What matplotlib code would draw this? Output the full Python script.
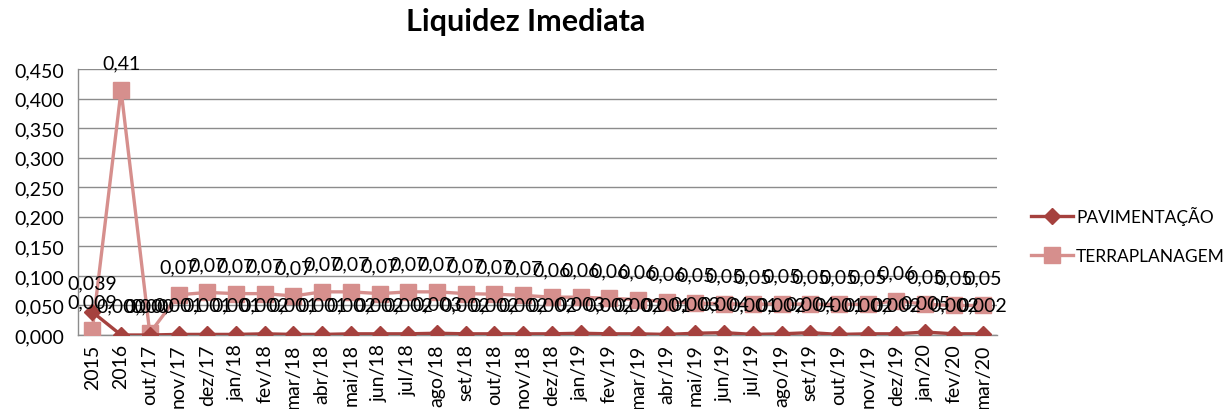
import matplotlib.pyplot as plt
from matplotlib.ticker import FuncFormatter

# -------------------------------
# Data
# -------------------------------
periodos = ["2015", "2016", "out/17", "nov/17", "dez/17",
            "jan/18", "fev/18", "mar/18", "abr/18", "mai/18", "jun/18",
            "jul/18", "ago/18", "set/18", "out/18", "nov/18", "dez/18",
            "jan/19", "fev/19", "mar/19", "abr/19", "mai/19", "jun/19",
            "jul/19", "ago/19", "set/19", "out/19", "nov/19", "dez/19",
            "jan/20", "fev/20", "mar/20"]

pavimentacao = [0.039, 0.000, 0.000, 0.001, 0.001,
                0.001, 0.002, 0.001, 0.001, 0.002, 0.002,
                0.002, 0.003, 0.002, 0.002, 0.002, 0.002,
                0.003, 0.002, 0.002, 0.001, 0.003, 0.004,
                0.001, 0.002, 0.004, 0.001, 0.002, 0.002,
                0.005, 0.002, 0.002]

terraplanagem = [0.009, 0.414, 0.003, 0.068, 0.072,
                 0.070, 0.070, 0.066, 0.073, 0.073, 0.070,
                 0.073, 0.073, 0.070, 0.069, 0.067, 0.064,
                 0.064, 0.062, 0.060, 0.056, 0.054, 0.053,
                 0.052, 0.053, 0.052, 0.052, 0.052, 0.058,
                 0.052, 0.050, 0.050]

# decimals shown in the data labels
pav_decimais = [3] * len(pavimentacao)
terra_decimais = [3] + [2] * (len(terraplanagem) - 1)

cor_pav = "#A5413E"
cor_terra = "#D68F8D"

plt.rcParams['font.family'] = ['Lato', 'DejaVu Sans']
FS = 14


def fmt(v, d):
    return f"{v:.{d}f}".replace(".", ",")


fig = plt.figure(figsize=(12.28, 4.10), dpi=100)
ax = fig.add_axes([78 / 1228, 1 - 336 / 410, (997 - 78) / 1228, (336 - 70) / 410])

x = list(range(len(periodos)))
ax.plot(x, pavimentacao, color=cor_pav, lw=2.4, marker="D", ms=8,
        label="PAVIMENTAÇÃO", zorder=4)
ax.plot(x, terraplanagem, color=cor_terra, lw=2.4, marker="s", ms=11,
        label="TERRAPLANAGEM", zorder=3)

# data labels above each point
for xi, v, d in zip(x, terraplanagem, terra_decimais):
    ax.annotate(fmt(v, d), (xi, v), xytext=(0, 20), textcoords="offset points",
                ha="center", va="center", fontsize=FS, color="black",
                annotation_clip=False, zorder=5)
for xi, v, d in zip(x, pavimentacao, pav_decimais):
    ax.annotate(fmt(v, d), (xi, v), xytext=(0, 21), textcoords="offset points",
                ha="center", va="center", fontsize=FS, color="black",
                annotation_clip=False, zorder=5)

ax.set_xlim(-0.5, len(periodos) - 0.5)
ax.set_ylim(0, 0.45)
ax.set_yticks([i * 0.05 for i in range(10)])
ax.yaxis.set_major_formatter(FuncFormatter(lambda v, p: fmt(v, 3)))
ax.set_xticks(x)
ax.set_xticklabels(periodos, rotation=90, fontsize=FS)
ax.tick_params(axis="y", labelsize=FS, length=0, pad=10)
ax.tick_params(axis="x", length=0, pad=6)

ax.grid(axis="y", color="#8c8c8c", lw=1)
ax.set_axisbelow(True)
for s in ["top", "right"]:
    ax.spines[s].set_visible(False)
for s in ["left", "bottom"]:
    ax.spines[s].set_color("#8c8c8c")
    ax.spines[s].set_linewidth(1)

fig.suptitle("Liquidez Imediata", x=0.428, y=0.98, fontsize=22, fontweight="bold")

fig.legend(loc="center left", bbox_to_anchor=(1024 / 1228, 1 - 236 / 410),
           frameon=False, fontsize=12.5, handlelength=2.4, handletextpad=0.2,
           labelspacing=1.3, borderaxespad=0)

fig.savefig("out.png", dpi=100)
